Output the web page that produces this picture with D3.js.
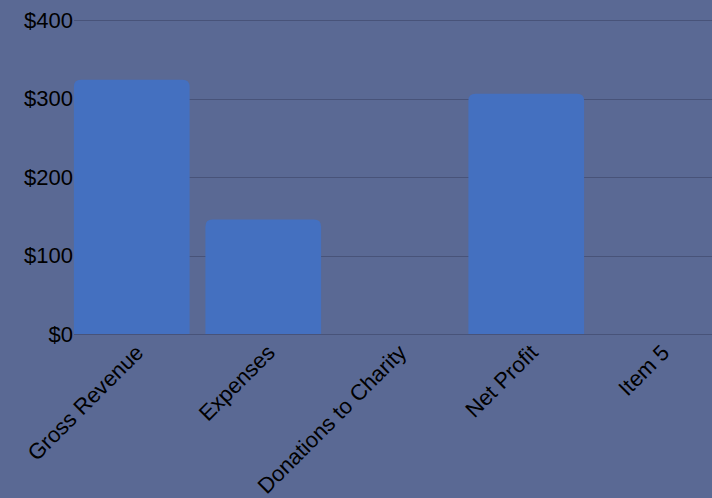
<!DOCTYPE html>
<html>
<head>
<meta charset="utf-8">
<script src="https://cdn.jsdelivr.net/npm/d3@7"></script>
<style>
  html, body { margin: 0; padding: 0; background: #5a6994; }
  svg { display: block; font-family: "Liberation Sans", Arial, sans-serif; }
</style>
</head>
<body>
<svg id="chart" width="712" height="498"></svg>
<script>
// chart data
const categories = ["Gross Revenue", "Expenses", "Donations to Charity", "Net Profit", "Item 5"];
const values = [324, 146, 0, 306, 0];
const yTicks = [0, 100, 200, 300, 400];

const chartW = 712, chartH = 498;
const plotLeft = 74, plotTop = 20, plotBottom = 334;

const svg = d3.select("#chart");

// background
svg.append("rect")
    .attr("width", chartW)
    .attr("height", chartH)
    .attr("fill", "#5a6994");

// scales
const y = d3.scaleLinear().domain([0, 400]).range([plotBottom, plotTop]);
const x = d3.scaleBand()
    .domain(categories)
    .range([66, 723.5])
    .paddingInner(0.12)
    .paddingOuter(0.06);

// gridlines
svg.append("g")
    .selectAll("line")
    .data(yTicks)
    .enter()
    .append("line")
    .attr("x1", plotLeft)
    .attr("x2", chartW)
    .attr("y1", d => Math.round(y(d)) + 0.5)
    .attr("y2", d => Math.round(y(d)) + 0.5)
    .attr("stroke", "#485379")
    .attr("stroke-width", 1);

// y tick labels
svg.append("g")
    .selectAll("text")
    .data(yTicks)
    .enter()
    .append("text")
    .attr("x", plotLeft - 1)
    .attr("y", d => y(d))
    .attr("dy", "0.36em")
    .attr("text-anchor", "end")
    .style("font-size", "22px")
    .style("fill", "#000")
    .text(d => "$" + d);

// bars with rounded tops
const r = 7;
function barPath(x0, w, yTop, yBot) {
    const rr = Math.min(r, (yBot - yTop), w / 2);
    return `M${x0},${yBot}V${yTop + rr}Q${x0},${yTop} ${x0 + rr},${yTop}` +
        `H${x0 + w - rr}Q${x0 + w},${yTop} ${x0 + w},${yTop + rr}V${yBot}Z`;
}

svg.append("g")
    .selectAll("path")
    .data(categories.map((c, i) => ({ c, v: values[i] })).filter(d => d.v > 0))
    .enter()
    .append("path")
    .attr("d", d => barPath(x(d.c), x.bandwidth(), y(d.v), y(0)))
    .attr("fill", "#4470c0");

// x labels, rotated
svg.append("g")
    .selectAll("text")
    .data(categories)
    .enter()
    .append("text")
    .attr("transform", d => `translate(${x(d) + x.bandwidth() / 2 + 13}, 354) rotate(-45)`)
    .attr("text-anchor", "end")
    .style("font-size", "22px")
    .style("fill", "#000")
    .text(d => d);
</script>
</body>
</html>
